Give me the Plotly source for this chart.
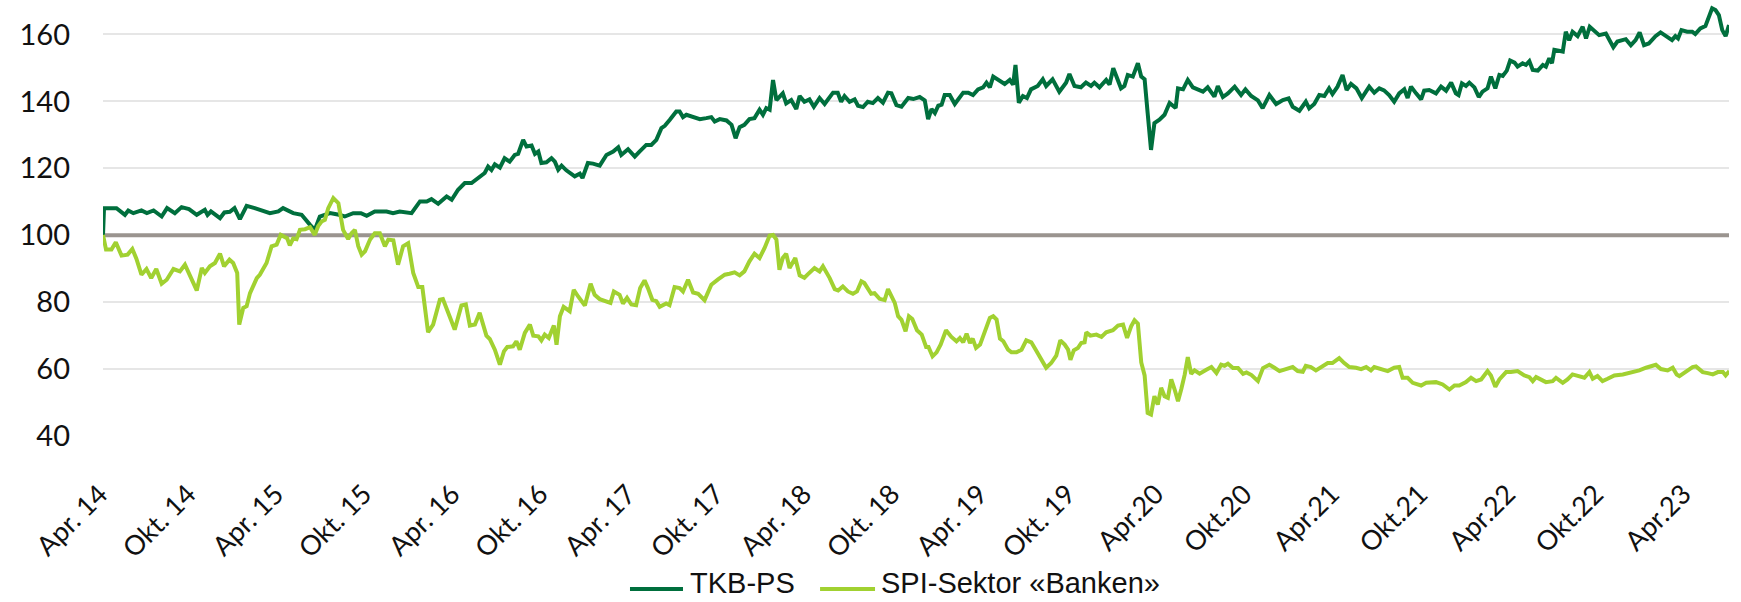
import pandas as pd
import plotly.graph_objects as go

# ── Data (weekly index since start, index value 100 = start) ──
START = pd.Timestamp("2014-03-24")
END_WEEK = 482.2
BASELINE = 100

tkb_week = [
    0, 0.3, 4, 6.5, 7.5, 9, 11.4, 13, 15, 17.4, 19, 21.3, 23.3, 25.5, 27.8, 30.2, 31, 32,
    34.7, 36, 37.6, 39, 40.6, 42.6, 45, 47, 49.5, 52, 53.4, 56.4, 58.9, 61.4, 62.8, 64.3,
    66, 67.3, 70, 71.7, 74.2, 76.5, 78.2, 80.6, 84.1, 86,
    88.0, 91.5, 94.0, 96.0, 97.4, 99.4, 101.9, 103.4, 105.3, 107.3, 109.3, 111.7, 113.2,
    114.2, 115.2, 116.2, 117.7, 119.1, 120.6, 122.1, 123.1, 124.6, 125.6, 127.1, 128.1,
    129.1, 130.0, 131.5, 133.0, 134.0, 135.0, 136.0, 137.4, 139.9, 141.4, 142.2, 143.8,
    145.3, 147.3, 149.3, 151.3, 152.8, 153.7, 155.7, 157.7, 159.1, 161.1, 162.6, 164.1,
    165.6, 166.6, 168.1, 170.0, 171.0, 172.0, 173.0, 175.0, 177.0, 178.9, 180.4, 181.4,
    182.9, 184.9, 186.4, 187.6, 188.8, 190.2, 191.7, 193.2, 194.7, 195.7, 196.7, 197.7,
    198.7, 199.7, 201.6, 202.6, 204.1, 205.6, 206.6, 208.0, 209.5, 210.8,
    212.5, 214.0, 216.5, 217.9, 218.9, 219.9, 221.4, 222.9, 223.9, 225.4, 226.8, 228.3,
    229.8, 231.3, 232.8, 233.8, 235.3, 236.8, 238.8, 240.3, 242.2, 243.7, 244.7, 245.7,
    246.7, 247.7, 248.7, 249.6, 251.1, 252.6, 254.1, 255.1, 256.6, 258.0, 259.5, 261.0,
    262.0, 263.0, 264.0, 265.5, 267.4, 268.9, 269.9, 270.6, 271.6, 272.8, 274.0, 275.2,
    277.2, 278.7, 279.7, 281.6, 283.6, 285.6, 286.6, 288.1, 290.0, 291.5, 293.0, 294.0,
    295.5, 297.5, 298.5, 299.6, 300.9, 301.9, 302.9, 303.9, 305.4, 306.9, 307.9, 308.9,
    309.8, 310.8, 311.8, 313.3, 314.8, 316.3, 318.1, 318.8, 320.3, 321.7, 323.2, 324.7,
    326.2, 327.6, 329.6, 330.6, 332.1, 333.6, 335.6, 337.5, 338.8, 340.5, 342.5, 343.9,
    345.9, 347.9, 349.9, 351.6, 352.8, 354.8, 356.7, 357.7, 359.2, 360.7, 362.2, 363.6,
    364.6, 366.1, 367.6, 368.8, 370.1, 371.7, 373.3, 375.5, 377.0, 378.5, 379.9, 381.4,
    382.9, 384.4, 385.9, 386.9, 387.9, 389.4, 390.9, 391.8, 393.3, 395.3, 396.8, 398.3,
    399.8, 401.2, 402.0, 403.0, 404.2, 405.2, 406.7, 408.0, 409.1, 410.6, 411.6, 412.9,
    414.1, 415.1, 416.3, 417.3, 418.6, 419.5, 421.0, 422.0, 423.0, 424.0, 425.5, 427.0,
    427.9, 428.9, 429.7, 430.4, 431.9, 432.9, 433.8, 434.8, 435.8, 437.3, 438.8, 439.8,
    440.9, 442.2, 443.7, 445.7, 447.9, 449.1, 451.6, 453.1, 454.5, 455.7, 457.0, 458.4,
    460.4, 461.9, 463.4, 464.4, 465.3, 466.3, 467.1, 468.1, 469.8, 471.3, 472.2, 473.7,
    475.2, 477.2, 478.2, 479.2, 480.2, 481.2, 482.2,
]
tkb_value = [
    100, 108.1, 108.1, 106.1, 107.4, 106.6, 107.4, 106.6, 107.4, 105.6, 108.1, 106.6, 108.4,
    107.8, 106.1, 107.6, 106.1, 107.1, 105.1, 106.8, 107.0, 108.1, 104.8, 108.8, 108.1, 107.4,
    106.6, 107.1, 108.1, 106.6, 106.1, 103.1, 101.6, 105.6, 106.1, 106.6, 106.1, 105.6, 106.6,
    106.6, 105.8, 107.1, 107.1, 106.6,
    107.1, 106.6, 110.1, 110.1, 110.8, 109.4, 111.6, 110.6, 113.6, 115.6, 115.6, 117.6, 118.6,
    120.5, 119.5, 121.2, 120.2, 123.0, 122.0, 124.0, 124.3, 128.5, 126.5, 126.8, 124.3,
    125.0, 121.6, 121.8, 123.0, 122.0, 119.6, 120.8, 119.4, 117.6, 118.4, 117.1, 121.6,
    121.4, 120.8, 124.0, 125.0, 126.3, 124.0, 125.7, 123.5, 125.0, 127.0, 127.0, 128.5,
    132.0, 132.7, 134.5, 137.0, 137.0, 135.3, 136.0, 135.5, 134.7, 135.0, 135.3, 134.0,
    134.7, 134.3, 133.0, 129.0, 132.3, 133.0, 134.7, 135.0, 137.5, 136.0, 138.0, 137.5,
    146.4, 140.4, 142.4, 139.4, 140.4, 137.7, 141.6, 139.9, 140.6, 138.4,
    141.0, 139.2, 142.6, 142.6, 139.9, 141.6, 139.9, 140.6, 138.7, 138.3, 139.9, 139.5,
    141.0, 139.6, 142.6, 142.4, 138.9, 138.4, 141.0, 140.7, 141.3, 140.3, 134.7, 137.7,
    136.5, 138.7, 139.0, 141.9, 141.9, 139.2, 141.0, 142.6, 142.6, 141.9, 143.6, 144.2,
    145.6, 144.2, 147.4, 146.4, 145.2, 146.4, 145.0, 150.9, 139.6, 141.6, 141.0, 143.6,
    144.6, 146.6, 144.6, 146.6, 142.9, 145.6, 148.2, 144.6, 144.2, 145.6, 144.6, 145.6,
    144.2, 146.4, 145.0, 149.9, 146.4, 143.9, 144.6, 147.9, 147.4, 151.4, 147.4, 146.6,
    136.5, 125.5, 133.5, 134.5, 136.0, 139.5, 138.0, 143.9, 143.6, 146.4, 144.2, 143.6,
    142.9, 144.2, 141.4, 144.6, 141.3, 142.4, 144.4, 141.9, 143.6, 141.6, 140.3, 138.0,
    141.9, 139.2, 140.4, 140.9, 138.4, 137.2, 139.9, 137.9, 139.2, 141.9, 141.6, 143.9,
    142.2, 144.4, 147.9, 143.4, 145.2, 143.9, 141.0, 144.4, 142.6, 143.9, 143.3, 141.9,
    139.9, 142.4, 143.6, 141.0, 144.4, 142.4, 140.6, 143.2, 143.4, 142.4, 144.4, 143.2,
    145.6, 142.4, 141.9, 145.4, 144.6, 145.6, 144.2, 141.3, 142.9, 143.9, 147.4, 143.9,
    147.9, 147.6, 149.2, 152.2, 151.6, 150.4, 151.4, 150.9, 152.0, 149.4, 149.2, 150.9,
    150.4, 152.9, 151.4, 155.4, 155.2, 154.9, 160.8, 158.3, 160.8, 159.5, 162.3, 158.8,
    162.3, 161.3, 159.8, 160.3, 156.2, 157.9, 158.6, 156.8, 158.3, 160.6, 156.8, 157.3,
    159.5, 160.6, 159.5, 159.1, 158.3, 159.5, 158.8, 161.3, 160.8, 160.8, 160.1, 161.8,
    162.5, 167.8, 167.3, 165.8, 161.3, 159.5, 162.8,
]

spi_week = [
    0, 0.9, 2.5, 3.8, 5.5, 7.3, 8.7, 9.9, 11.4, 12.9, 14.3, 15.8, 17.4, 18.9, 20.9, 22.8,
    24.3, 26.3, 27.8, 29.3, 30.2, 31.7, 33.2, 34.7, 35.9, 37.5, 38.6, 39.8, 40.4, 41.6,
    42.6, 43.6, 44.6, 45.6, 46.5, 48.5, 50.0, 51.5, 52.7, 53.9, 54.6, 55.4, 56.4, 57.4,
    58.4, 59.9, 61.4, 62.8, 63.8, 64.8, 65.8, 66.8, 68.3, 69.8, 71.2, 72.7, 73.7, 74.7,
    75.7, 76.7, 77.7, 79.2, 80.6, 82.1, 83.6, 84.6, 86.1, 87.5,
    89.0, 90.5, 92.0, 93.5, 94.7, 96.4, 97.9, 99.9, 100.8, 104.3, 106.3, 107.6, 108.8,
    110.3, 111.7, 113.7, 114.7, 116.2, 117.7, 118.9, 119.9, 121.6, 122.6, 123.6, 125.1,
    126.6, 127.6, 129.1, 130.0, 131.0, 132.2, 133.7, 134.5, 135.5, 136.6, 138.4, 139.6,
    140.9, 142.9, 144.6, 145.8, 147.3, 149.3, 150.5, 151.5, 153.2, 154.2, 155.4, 156.7,
    158.1, 159.3, 160.6, 161.6, 162.9, 164.1, 165.1, 167.0, 168.0, 169.5, 171.0, 172.0,
    173.5, 175.0, 176.5, 178.4, 180.4, 182.4, 184.4, 185.8, 187.3, 188.8, 190.2, 191.7,
    193.2, 194.7, 196.2, 197.7, 198.7, 199.7, 200.6, 201.6, 202.6, 203.6, 205.3, 206.6,
    208.0, 209.0, 211.0,
    212.5, 213.5, 215.5, 217.0, 218.0, 219.4, 220.9, 222.4, 223.6, 224.9, 225.8, 227.8,
    228.8, 230.3, 231.8, 232.8, 234.8, 235.8, 236.8, 238.0, 239.0, 240.0, 241.4, 242.8,
    244.1, 244.8, 246.0, 247.2, 248.4, 250.0, 251.6, 253.1, 254.1, 255.1, 256.1, 257.1,
    257.9, 258.9, 260.1, 261.3, 262.0, 263.0, 264.0, 265.0, 266.0, 267.0, 268.4, 269.4,
    270.9, 272.4, 273.8, 275.3, 276.6, 278.3, 279.7, 281.2, 282.7, 283.9, 285.2, 286.2,
    286.9, 287.9, 289.1, 290.1, 291.1, 291.6, 292.8, 294.6, 296.1, 297.5, 299.5, 301.0,
    302.5, 303.7, 304.9, 305.9, 306.9, 307.9, 308.9, 309.8, 310.8, 311.8, 312.8, 313.8,
    314.8, 315.8, 316.8, 317.8, 318.8, 319.8, 320.8, 321.7, 322.7, 323.7, 325.2, 327.2,
    328.7, 330.2, 331.6, 332.6, 333.6, 335.1, 336.6, 338.1, 339.1, 340.6, 342.5, 344.0,
    345.9, 347.4, 348.9, 350.8, 352.8, 354.3, 355.8, 356.7, 358.2, 359.7, 361.7, 363.2,
    364.6, 366.6, 368.1, 369.6, 371.6, 373.1, 374.6, 376.0, 377.0, 379.0, 381.0, 382.9,
    384.4, 385.4, 386.9, 388.4, 390.9, 392.4, 395.3, 397.3, 399.3, 400.8, 402.2, 404.2,
    405.7, 407.2, 408.7, 410.6, 411.6, 412.9, 414.1, 416.1, 417.5, 419.5, 421.5, 423.0,
    424.0, 425.0, 426.4, 427.9, 429.9, 430.9, 432.9, 434.3, 435.8, 437.3, 439.3, 440.8,
    441.8, 443.2, 444.7, 446.2, 448.2, 450.7, 453.1, 455.6, 457.6, 459.1, 460.5, 462.0,
    464.0, 465.5, 466.7, 467.5, 469.4, 471.4, 472.4, 474.4, 475.9, 477.4, 478.9, 480.4,
    481.2, 482.3,
]
spi_value = [
    100.1, 95.7, 95.7, 97.9, 93.9, 94.2, 95.9, 93.0, 88.2, 89.9, 87.2, 89.9, 85.5, 86.7,
    89.9, 89.2, 91.2, 86.7, 83.5, 90.2, 88.7, 90.7, 91.7, 94.5, 90.7, 92.7, 91.7, 88.7,
    73.3, 78.3, 78.8, 82.7, 84.7, 87.2, 88.2, 91.7, 96.7, 97.2, 100.1, 99.4, 99.1, 97.0,
    99.0, 98.8, 101.6, 101.8, 102.4, 100.1, 102.7, 104.1, 104.6, 108.1, 111.1, 109.6,
    101.6, 98.9, 100.6, 101.6, 96.7, 94.2, 95.2, 98.7, 100.6, 100.6, 96.7, 98.7, 98.5, 91.2,
    96.7, 97.6, 88.7, 84.5, 84.5, 71.0, 73.3, 80.7, 80.9, 71.8, 79.0, 79.3, 73.0,
    73.3, 76.8, 70.0, 69.0, 65.8, 61.3, 65.3, 66.6, 66.8, 68.3, 65.8, 70.8,
    73.3, 70.0, 69.8, 68.6, 70.3, 69.3, 73.0, 67.3, 75.8, 78.6, 77.3, 83.7,
    81.7, 79.0, 85.5, 82.2, 80.9, 80.3, 79.8, 83.2, 82.2, 79.6, 81.3, 79.3,
    79.1, 84.2, 86.5, 84.2, 80.7, 80.3, 78.6, 79.6, 79.1, 84.5, 84.2, 83.2,
    86.7, 82.9, 82.5, 80.6, 85.2, 86.8, 88.2, 88.5, 88.9, 88.0, 89.2, 92.2,
    94.5, 93.2, 96.2, 99.9, 100.1, 98.7, 89.7, 93.2, 94.5, 90.2, 93.2, 88.0,
    87.3, 88.3, 90.2,
    89.2, 90.7, 87.2, 83.9, 83.5, 84.7, 83.2, 82.5, 83.2, 86.2, 85.7, 82.5,
    82.7, 81.0, 80.6, 83.9, 79.8, 75.8, 74.7, 71.3, 75.8, 75.0, 71.6, 70.3,
    66.6, 66.6, 63.8, 65.0, 67.3, 71.6, 69.6, 68.3, 69.3, 68.0, 70.6, 67.8,
    69.1, 66.3, 67.3, 70.8, 72.0, 75.3, 75.8, 74.8, 69.1, 68.3, 65.8, 65.0,
    65.0, 65.8, 68.6, 68.0, 65.8, 62.8, 60.4, 61.8, 64.0, 68.6, 67.3, 65.8,
    62.8, 65.6, 66.3, 67.8, 68.0, 71.0, 70.0, 70.3, 69.6, 71.0, 71.6, 73.0,
    73.3, 69.3, 72.8, 74.6, 73.6, 62.0, 58.1, 46.9, 46.4, 51.9, 49.4, 54.4,
    51.9, 51.4, 56.9, 53.9, 50.4, 54.1, 58.4, 63.6, 58.6, 59.6, 58.6, 59.8,
    60.6, 58.8, 61.3, 61.0, 61.6, 60.3, 60.3, 58.6, 59.0, 58.2, 56.4, 60.3,
    61.3, 60.4, 59.4, 60.0, 60.6, 59.4, 59.2, 61.0, 60.6, 59.6, 61.0, 61.8,
    61.8, 63.3, 61.8, 60.6, 60.4, 60.0, 60.6, 59.6, 60.6, 60.0, 59.4, 60.4,
    60.6, 57.4, 57.4, 55.9, 55.1, 55.9, 56.1, 55.4, 53.9, 55.1, 55.1, 56.1,
    57.4, 56.4, 56.9, 59.4, 58.1, 54.7, 56.9, 59.1, 59.1, 59.4, 58.1, 57.6,
    56.4, 57.6, 56.9, 56.1, 56.4, 57.4, 55.9, 56.9, 58.4, 57.9, 57.4, 59.1,
    57.1, 57.9, 56.4, 57.1, 58.1, 58.4, 58.9, 59.6, 60.4, 61.0, 61.3, 60.0,
    59.6, 60.4, 58.4, 57.9, 59.4, 60.6, 60.8, 59.1, 58.8, 58.4, 59.1, 59.1,
    58.1, 59.4,
]

tick_dates = [f"{y}-{m:02d}-01" for y in range(2014, 2024) for m in (4, 10)][:-1]
tick_text = [
    "Apr. 14", "Okt. 14", "Apr. 15", "Okt. 15", "Apr. 16", "Okt. 16", "Apr. 17", "Okt. 17",
    "Apr. 18", "Okt. 18", "Apr. 19", "Okt. 19", "Apr.20", "Okt.20", "Apr.21", "Okt.21",
    "Apr.22", "Okt.22", "Apr.23",
]
y_ticks = [40, 60, 80, 100, 120, 140, 160]

TKB_COLOR = "#006F3D"
SPI_COLOR = "#A1D131"
BASE_COLOR = "#9A948F"
X_TICK_FONT = dict(family="Lato, Noto Sans, sans-serif", size=27, color="#111111")
Y_TICK_FONT = dict(family="Lato, Noto Sans, sans-serif", size=29, color="#111111")
LEGEND_FONT = dict(family="Liberation Sans, Arial, sans-serif", size=29, color="#111111")


def to_dates(weeks):
    return START + pd.to_timedelta([w * 7 for w in weeks], unit="D")


fig = go.Figure()

# base-100 reference line, drawn as the first trace so it sits above the grid
fig.add_trace(go.Scatter(
    x=to_dates([0, END_WEEK]), y=[BASELINE, BASELINE], mode="lines",
    line=dict(color=BASE_COLOR, width=4), hoverinfo="skip", showlegend=False,
))
fig.add_trace(go.Scatter(
    x=to_dates(tkb_week), y=tkb_value, name="TKB-PS", mode="lines",
    line=dict(color=TKB_COLOR, width=4), showlegend=False,
))
fig.add_trace(go.Scatter(
    x=to_dates(spi_week), y=spi_value, name="SPI-Sektor «Banken»", mode="lines",
    line=dict(color=SPI_COLOR, width=4), showlegend=False,
))

# ── Legend drawn below the axis (longer line samples than plotly's own) ──
LEG_LINE_Y = -0.352
LEG_TEXT_Y = -0.379
legend_items = [
    ("TKB-PS", TKB_COLOR, 0.3241, 0.3567, 0.3598),
    ("SPI-Sektor «Banken»", SPI_COLOR, 0.4410, 0.4748, 0.4770),
]
for label, color, lx0, lx1, tx in legend_items:
    fig.add_shape(type="line", xref="paper", yref="paper", x0=lx0, x1=lx1,
                  y0=LEG_LINE_Y, y1=LEG_LINE_Y, line=dict(color=color, width=4))
    fig.add_annotation(text=label, xref="paper", yref="paper", x=tx, y=LEG_TEXT_Y,
                       xanchor="left", yanchor="bottom", showarrow=False,
                       font=LEGEND_FONT)

fig.update_layout(
    width=1741, height=602,
    margin=dict(l=103, r=12, t=1, b=166),
    plot_bgcolor="white", paper_bgcolor="white",
    showlegend=False,
    xaxis=dict(
        type="date", range=to_dates([0, END_WEEK]),
        tickmode="array", tickvals=tick_dates, ticktext=tick_text,
        tickangle=-45, tickfont=X_TICK_FONT, ticks="", showgrid=False,
        zeroline=False, showline=False, ticklabelstandoff=36, ticklabelshift=-7,
        automargin=False,
    ),
    yaxis=dict(
        range=[40, 170], tickmode="array", tickvals=y_ticks,
        tickfont=Y_TICK_FONT, showgrid=True, gridcolor="#E6E6E6", gridwidth=2,
        zeroline=False, showline=False, ticks="", ticklabelstandoff=32, automargin=False,
    ),
)

# the page's default body margin would offset the figure by 8px
fig.write_html("out.html", config={"displayModeBar": False},
               post_script="document.body.style.margin='0';")
